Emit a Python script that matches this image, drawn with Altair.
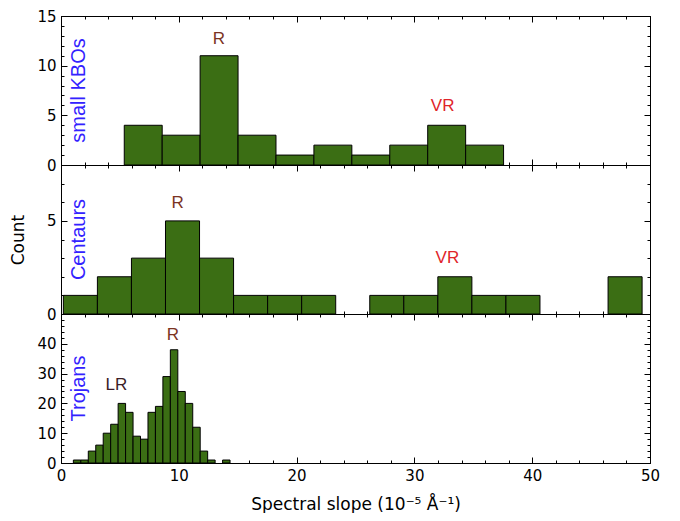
import altair as alt
import numpy as np
import pandas as pd

# ---------------- data ----------------
# histogram bin ranges (first left edge, last right edge) and counts
kbo_range = [5.37, 37.57]
kbo_counts = [4, 3, 11, 3, 1, 2, 1, 2, 4, 2]

cen_range = [0.2, 49.33]
cen_counts = [1, 2, 3, 5, 3, 1, 1, 1, 0, 1, 1, 2, 1, 1, 0, 0, 2]

tro_range = [1.05, 14.35]
tro_counts = [1, 1, 4, 6, 10, 13, 20, 17, 9, 8, 17, 19, 29, 38, 24, 20, 12, 4, 1, 0, 1]

# annotations (text, x in slope units, y in counts)
kbo_note_text = ["R", "VR"]
kbo_note_x = [13.4, 32.4]
kbo_note_y = [12.7, 5.9]

cen_note_text = ["R", "VR"]
cen_note_x = [9.9, 32.8]
cen_note_y = [5.95, 3.0]

tro_note_text = ["LR", "R"]
tro_note_x = [4.7, 9.5]
tro_note_y = [26.3, 42.9]

group_names = ["small KBOs", "Centaurs", "Trojans"]

y_max = [15, 8, 50]
y_major = [[0, 5, 10, 15], [0, 5], [0, 10, 20, 30, 40]]
y_minor = [list(range(0, 16)), list(range(0, 9)), list(range(0, 51, 2))]
x_major = [0, 10, 20, 30, 40, 50]
x_minor = list(range(0, 51, 2))
x_title = "Spectral slope (10\u207b\u2075 \u00c5\u207b\u00b9)"
y_title = "Count"

# ---------------- styling ----------------
W, H = 589, 149
GREEN = "#3b6e14"
BLUE = "#3322ff"
NOTE_SCALE = alt.Scale(domain=["R", "VR", "LR"], range=["#7b3323", "#e0242a", "#3b1d28"])
MAJOR, MINOR = 6, 3


def tick_axis(orient, values, size, offset):
    return alt.Axis(orient=orient, values=values, tickSize=size, offset=offset,
                    labels=False, domain=False, grid=False, title=None,
                    minExtent=0, maxExtent=size, tickColor="black", tickWidth=1)


def panel(idx, rng, counts, note_text, note_x, note_y):
    edges = np.linspace(rng[0], rng[1], len(counts) + 1)
    df = pd.DataFrame({"start": edges[:-1], "end": edges[1:], "count": counts})
    notes = pd.DataFrame({"label": note_text, "x": note_x, "y": note_y})
    name = pd.DataFrame({"name": [group_names[idx]]})

    xs = alt.Scale(domain=[0, 50], nice=False, zero=False)
    ys = alt.Scale(domain=[0, y_max[idx]], nice=False)

    bottom = idx == 2
    if bottom:
        xaxis = alt.Axis(orient="bottom", values=x_major, ticks=False, labelPadding=5,
                         labelFlush=False, labelOverlap=False, title=x_title,
                         titlePadding=13, titleFontSize=17)
    else:
        xaxis = None

    if idx == 1:
        yaxis = alt.Axis(orient="left", values=y_major[idx], ticks=False, labelPadding=5,
                         title=y_title, titleX=-34, titleY=H / 2, titleFontSize=17)
    else:
        yaxis = alt.Axis(orient="left", values=y_major[idx], ticks=False, labelPadding=5,
                         title=None)

    bars = alt.Chart(df).transform_filter("datum.count > 0").mark_rect(
        color=GREEN, stroke="black", strokeWidth=1
    ).encode(
        x=alt.X("start:Q", scale=xs, axis=xaxis),
        x2="end:Q",
        y=alt.Y("count:Q", scale=ys, axis=yaxis),
        y2=alt.datum(0),
    )

    def ticks(xorient, yorient, xv, yv, size):
        return alt.Chart(df).mark_point(opacity=0).encode(
            x=alt.X("start:Q", scale=xs, axis=tick_axis(xorient, xv, size, -H)),
            y=alt.Y("count:Q", scale=ys, axis=tick_axis(yorient, yv, size, -W)),
        )

    t1 = ticks("top", "right", x_major, y_major[idx], MAJOR)
    t2 = ticks("top", "right", x_minor, y_minor[idx], MINOR)
    t3 = ticks("bottom", "left", x_major, y_major[idx], MAJOR)
    t4 = ticks("bottom", "left", x_minor, y_minor[idx], MINOR)

    note_layer = alt.Chart(notes).mark_text(
        font="Liberation Sans", fontSize=17, align="center", baseline="middle"
    ).encode(
        x=alt.X("x:Q", scale=xs, axis=None),
        y=alt.Y("y:Q", scale=ys, axis=None),
        text="label:N",
        color=alt.Color("label:N", scale=NOTE_SCALE, legend=None),
    )

    group_layer = alt.Chart(name).mark_text(
        font="Liberation Sans", fontSize=20, angle=270, align="center",
        baseline="alphabetic", color=BLUE
    ).encode(
        x=alt.value(24),
        y=alt.value(H / 2),
        text="name:N",
    )

    return alt.layer(bars, t1, t2, t3, t4, note_layer, group_layer).resolve_axis(
        x="independent", y="independent"
    ).properties(width=W, height=H)


p1 = panel(0, kbo_range, kbo_counts, kbo_note_text, kbo_note_x, kbo_note_y)
p2 = panel(1, cen_range, cen_counts, cen_note_text, cen_note_x, cen_note_y)
p3 = panel(2, tro_range, tro_counts, tro_note_text, tro_note_x, tro_note_y)

chart = alt.vconcat(p1, p2, p3, spacing=0, bounds="flush").properties(
    padding={"left": 0, "top": 0, "right": 5, "bottom": 0}
).configure_view(
    stroke="black", strokeWidth=1
).configure_axis(
    grid=False, domain=False,
    labelFont="DejaVu Sans", labelFontSize=15, labelColor="black",
    titleFont="DejaVu Sans", titleColor="black", titleFontWeight="normal",
    tickColor="black",
)

chart.save("out.html", embed_options={"renderer": "svg", "actions": False})
